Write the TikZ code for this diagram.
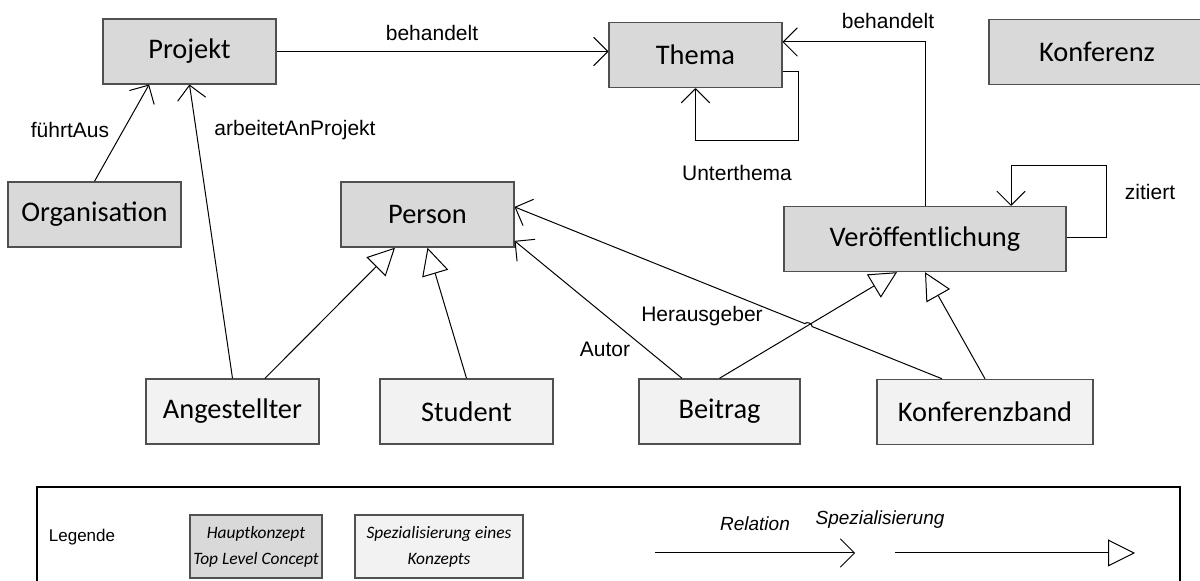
\documentclass[tikz,border=0pt]{standalone}
\usepackage{fontspec}
\setmainfont{Carlito}
\newfontfamily\labelfont{Liberation Sans}
\usetikzlibrary{arrows.meta,calc}

\definecolor{mainfill}{HTML}{D9D9D9}
\definecolor{subfill}{HTML}{F2F2F2}
\definecolor{boxline}{HTML}{505050}

\begin{document}
\begin{tikzpicture}[x=0.5pt,y=-0.5pt,
  conceptbox/.style={draw=boxline,line width=0.7pt,fill=mainfill,inner sep=0pt,
    minimum height=32.5pt,font=\fontsize{14.2}{16}\selectfont},
  subbox/.style={conceptbox,fill=subfill},
  lbl/.style={inner sep=0pt,font=\labelfont\fontsize{10.5}{12}\selectfont},
  rel/.style={line width=0.5pt,-{Straight Barb[length=7pt,width=14pt,round]}},
  spec/.style={line width=0.5pt,-{Triangle[length=13.5pt,width=13.5pt,fill=white]}},
  legtext/.style={inner sep=0pt,align=center,font=\itshape\fontsize{8.7}{13}\selectfont},
  leglbl/.style={inner sep=0pt,font=\labelfont\itshape\fontsize{9.5}{11}\selectfont}]
\useasboundingbox (0,0) rectangle (1200,581);

% top level concepts
\node[conceptbox,minimum width=86.5pt] (projekt) at (189.5,51.5) {Projekt};
\node[conceptbox,minimum width=86.5pt] (thema) at (695.5,55) {Thema};
\node[conceptbox,minimum width=108pt] (konferenz) at (1097,52) {Konferenz};
\node[conceptbox,minimum width=86.5pt] (organisation) at (94.5,214.5) {Organisation};
\node[conceptbox,minimum width=86.5pt] (person) at (427.5,214.5) {Person};
\node[conceptbox,minimum width=141pt] (publ) at (925,239) {Veröffentlichung};

% specialisations
\node[subbox,minimum width=86.5pt] (angestellter) at (232.5,411.5) {Angestellter};
\node[subbox,minimum width=86.5pt] (student) at (466.5,411.5) {Student};
\node[subbox,minimum width=80.5pt] (beitrag) at (719.5,411.5) {Beitrag};
\node[subbox,minimum width=108pt] (kband) at (985,412) {Konferenzband};

% relations
\draw[rel] (organisation.north) -- ($(projekt.south)+(-40.5,0)$);
\draw[rel] (angestellter.north) -- (projekt.south);
\draw[rel] (projekt.east) -- (projekt.east -| thema.west);
\draw[rel] (publ.north) |- ($(thema.east)+(0,-13)$);
\draw[rel] ($(thema.east)+(0,17)$) -| ++(16,69) -| (thema.south);
\draw[rel] ($(publ.east)+(0,-1)$) -| ++(40,-72) -| ($(publ.north)+(86,0)$);

% specialisation links
\draw[spec] ($(angestellter.north)+(32.5,0)$) -- ($(person.south)+(-32.5,0)$);
\draw[spec] (student.north) -- (person.south);
\coordinate (bA) at (beitrag.north);
\coordinate (bB) at ($(publ.south)+(-28,0)$);
\draw[spec] (bA) -- (bB);
\draw[spec] (kband.north) -- (publ.south);

% authors and editors
\draw[rel] ($(beitrag.north)+(-37.5,0)$) -- ($(person.east)+(0,26.5)$);
\coordinate (hA) at ($(kband.north)+(-43,0)$);
\coordinate (hB) at ($(person.east)+(0,-7.5)$);
\coordinate (hx) at (intersection of hA--hB and bA--bB);
\draw[rel] (hA) -- ($(hx)!1.9pt!(hA)$) to[bend right=90] ($(hx)!1.9pt!(hB)$) -- (hB);

% relation labels
\node[lbl] (l1) at (432,33) {behandelt};
\node[lbl] (l2) at (888,21) {behandelt};
\node[lbl] (l3) at (70,130) {führtAus};
\node[lbl] (l4) at (295,130) {arbeitetAnProjekt};
\node[lbl] (l5) at (737,173) {Unterthema};
\node[lbl] (l6) at (1150,192) {zitiert};
\node[lbl] (l7) at (702,316) {Herausgeber};
\node[lbl] (l8) at (605,349) {Autor};

% legend
\draw[line width=0.7pt] (37,487) rectangle (1180,600);
\node[inner sep=0pt,font=\labelfont\fontsize{8.5}{10}\selectfont] (leg) at (82,537) {Legende};
\node[conceptbox,minimum width=66pt,minimum height=31.5pt,legtext] (legmain) at (256,546.5)
  {Hauptkonzept\\Top Level Concept};
\node[subbox,minimum width=84pt,minimum height=31.5pt,legtext] (legsub) at (439,546.5)
  {Spezialisierung eines\\Konzepts};
\coordinate (r1) at (655,553);
\coordinate (r2) at (855,553);
\draw[rel] (r1) -- (r2);
\node[leglbl] (lr) at (755,524) {Relation};
\coordinate (s1) at (895,553);
\coordinate (s2) at (1135,553);
\draw[spec] (s1) -- (s2);
\node[leglbl] (ls) at (880,520) {Spezialisierung};
\end{tikzpicture}
\end{document}
